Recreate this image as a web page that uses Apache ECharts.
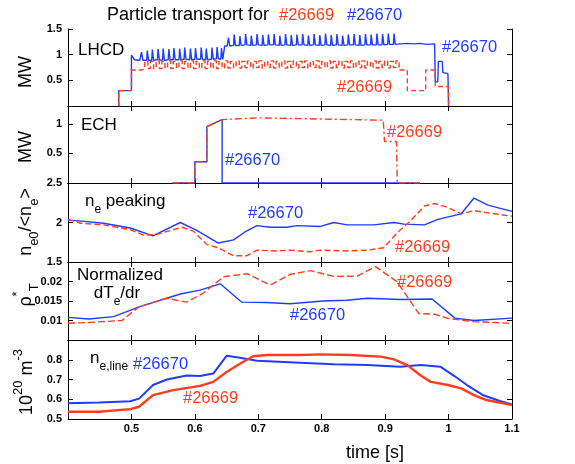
<!DOCTYPE html>
<html><head><meta charset="utf-8">
<script src="https://cdn.jsdelivr.net/npm/echarts/dist/echarts.min.js"></script>
<style>html,body{margin:0;padding:0;background:#fff}#c{width:575px;height:464px}</style>
</head><body><div id="c"></div>
<script>
const BLUE = '#1f3cff', RED = '#ff3c1e';
const FONT = '"Liberation Sans", Arial, sans-serif';

// tick labels shown on each axis
const xTickLabels = [0.5, 0.6, 0.7, 0.8, 0.9, 1, 1.1];
const yLabelsLHCD = [0.5, 1, 1.5];
const yLabelsECH = [0.5, 1];
const yLabelsPeak = [1.5, 2, 2.5];
const yLabelsRho = [0.01, 0.015, 0.02];
const yLabelsNe = [0.5, 0.6, 0.7, 0.8];

// LHCD power [MW]
const lhcd670 = [[0.48,0],[0.48,0.3],[0.5,0.3],[0.5,0.99],[0.503,0.97],[0.505,0.9],[0.513,0.89],
[0.515,0.89],[0.516,1.05],[0.518,0.89],
[0.524,0.89],[0.525,1.08],[0.527,0.89],
[0.532,0.89],[0.533,1.10],[0.535,0.89],
[0.541,0.90],[0.542,1.11],[0.544,0.90],
[0.549,0.89],[0.550,1.12],[0.552,0.89],
[0.558,0.90],[0.559,1.11],[0.561,0.90],
[0.566,0.90],[0.567,1.13],[0.569,0.90],
[0.575,0.90],[0.576,1.12],[0.578,0.90],
[0.583,0.91],[0.584,1.14],[0.586,0.91],
[0.592,0.90],[0.593,1.12],[0.595,0.90],
[0.600,0.91],[0.601,1.13],[0.603,0.91],
[0.609,0.91],[0.610,1.14],[0.612,0.91],
[0.617,0.90],[0.618,1.12],[0.620,0.90],
[0.626,0.91],[0.627,1.14],[0.629,0.91],
[0.634,0.92],[0.635,1.15],[0.637,0.92],
[0.641,0.91],[0.642,1.13],[0.644,0.91],
[0.646,0.92],[0.647,1.17],[0.651,1.17],
[0.652,1.17],[0.653,1.33],[0.655,1.17],
[0.661,1.18],[0.662,1.39],[0.664,1.18],
[0.670,1.18],[0.671,1.36],[0.673,1.18],
[0.679,1.19],[0.680,1.40],[0.682,1.19],
[0.688,1.18],[0.689,1.37],[0.691,1.18],
[0.697,1.19],[0.698,1.40],[0.700,1.19],
[0.706,1.18],[0.707,1.38],[0.709,1.18],
[0.715,1.19],[0.716,1.39],[0.718,1.19],
[0.724,1.19],[0.725,1.40],[0.727,1.19],
[0.733,1.18],[0.734,1.37],[0.736,1.18],
[0.742,1.19],[0.743,1.40],[0.745,1.19],
[0.751,1.18],[0.752,1.38],[0.754,1.18],
[0.760,1.19],[0.761,1.39],[0.763,1.19],
[0.769,1.19],[0.770,1.40],[0.772,1.19],
[0.778,1.18],[0.779,1.37],[0.781,1.18],
[0.787,1.19],[0.788,1.40],[0.790,1.19],
[0.796,1.18],[0.797,1.38],[0.799,1.18],
[0.805,1.19],[0.806,1.41],[0.808,1.19],
[0.814,1.18],[0.815,1.38],[0.817,1.18],
[0.823,1.19],[0.824,1.40],[0.826,1.19],
[0.832,1.18],[0.833,1.37],[0.835,1.18],
[0.841,1.19],[0.842,1.39],[0.844,1.19],
[0.850,1.19],[0.851,1.40],[0.853,1.19],
[0.859,1.18],[0.860,1.38],[0.862,1.18],
[0.868,1.19],[0.869,1.40],[0.871,1.19],
[0.877,1.19],[0.878,1.39],[0.880,1.19],
[0.886,1.19],[0.887,1.41],[0.889,1.19],
[0.895,1.19],[0.896,1.40],[0.898,1.19],
[0.904,1.20],[0.905,1.41],[0.907,1.20],
[0.913,1.20],[0.914,1.41],[0.916,1.20],
[0.925,1.21],[0.935,1.22],[0.945,1.21],[0.955,1.22],[0.965,1.20],[0.978,1.21],
[0.979,0.47],[0.983,0.47],[0.984,0.87],[0.990,0.87],[0.991,0.65],[0.999,0.63],[1.0,0]];

const lhcd669 = [[0.48,0],[0.48,0.3],[0.50,0.7],[0.515,0.72],
[0.521,0.87],[0.526,0.73],[0.530,0.87],[0.535,0.73],[0.539,0.88],[0.544,0.73],[0.548,0.87],[0.553,0.74],
[0.557,0.88],[0.562,0.73],[0.566,0.87],[0.571,0.74],[0.575,0.88],[0.580,0.73],[0.584,0.87],[0.589,0.74],
[0.593,0.88],[0.598,0.73],[0.602,0.87],[0.607,0.74],[0.611,0.88],[0.616,0.73],[0.620,0.87],[0.625,0.74],
[0.629,0.88],[0.634,0.73],[0.638,0.87],[0.643,0.74],[0.647,0.88],[0.652,0.74],[0.656,0.87],[0.661,0.75],
[0.665,0.88],[0.670,0.74],[0.674,0.87],[0.679,0.75],[0.683,0.88],[0.688,0.74],[0.692,0.87],[0.697,0.75],
[0.701,0.88],[0.706,0.74],[0.710,0.87],[0.715,0.75],[0.719,0.88],[0.724,0.74],[0.728,0.87],[0.733,0.75],
[0.737,0.88],[0.742,0.74],[0.746,0.87],[0.751,0.75],[0.755,0.88],[0.760,0.74],[0.764,0.87],[0.769,0.75],
[0.773,0.88],[0.778,0.74],[0.782,0.87],[0.787,0.75],[0.791,0.88],[0.796,0.74],[0.800,0.87],[0.805,0.75],
[0.809,0.88],[0.814,0.74],[0.818,0.87],[0.823,0.75],[0.827,0.88],[0.832,0.74],[0.836,0.87],[0.841,0.75],
[0.845,0.88],[0.850,0.74],[0.854,0.87],[0.859,0.75],[0.863,0.88],[0.868,0.74],[0.872,0.87],[0.877,0.75],
[0.881,0.88],[0.886,0.74],[0.890,0.87],[0.895,0.75],[0.899,0.88],[0.904,0.74],[0.908,0.87],[0.913,0.75],
[0.917,0.88],[0.922,0.70],[0.935,0.30],[0.964,0.70],[0.979,0.38],[1.0,0],[1.0,0]];

// ECH power [MW]
const ech670 = [[0.565,0],[0.6,0],[0.6,0.36],[0.619,0.36],[0.619,0.95],[0.643,1.07],[0.643,0],[0.955,0]];
const ech669 = [[0.565,0],[0.6,0],[0.6,0.36],[0.619,0.36],[0.619,0.95],[0.643,1.07],[0.645,1.10],[0.70,1.10],
[0.75,1.09],[0.80,1.08],[0.85,1.07],[0.897,1.06],[0.899,0.70],[0.918,0.70],[0.919,0],[0.955,0]];

// ne peaking
const peak670 = [[0.4,2.03],[0.417,2.02],[0.456,1.99],[0.498,1.93],[0.534,1.83],[0.577,2.0],[0.603,1.9],
[0.637,1.74],[0.661,1.78],[0.679,1.88],[0.698,1.96],[0.719,1.94],[0.745,1.94],[0.761,1.96],[0.798,1.95],
[0.819,2.0],[0.84,1.97],[0.882,1.97],[0.914,2.0],[0.93,1.98],[0.962,1.97],[0.983,2.04],[1.02,2.11],
[1.04,2.31],[1.062,2.22],[1.1,2.14]];
const peak669 = [[0.4,2.04],[0.42,1.99],[0.456,1.97],[0.498,1.91],[0.519,1.84],[0.54,1.85],[0.58,1.94],
[0.598,1.89],[0.619,1.72],[0.637,1.68],[0.661,1.58],[0.682,1.58],[0.698,1.65],[0.729,1.64],[0.75,1.65],
[0.782,1.63],[0.798,1.65],[0.84,1.64],[0.872,1.65],[0.898,1.68],[0.919,1.87],[0.94,2.02],[0.962,2.21],
[0.978,2.24],[0.999,2.19],[1.02,2.11],[1.04,2.15],[1.072,2.11],[1.1,2.08]];

// normalized dTe/dr
const rho670 = [[0.4,0.0108],[0.433,0.0104],[0.472,0.011],[0.512,0.0135],[0.577,0.0168],[0.608,0.0178],
[0.64,0.0194],[0.674,0.0147],[0.713,0.0146],[0.75,0.0143],[0.802,0.015],[0.84,0.0152],[0.872,0.0157],
[0.924,0.0154],[0.974,0.0155],[1.01,0.0106],[1.04,0.010],[1.1,0.0106]];
const rho669 = [[0.4,0.0093],[0.433,0.0095],[0.485,0.010],[0.512,0.0135],[0.556,0.0157],[0.587,0.0147],
[0.613,0.017],[0.645,0.0212],[0.682,0.022],[0.719,0.0191],[0.75,0.0218],[0.782,0.0228],[0.819,0.0213],
[0.856,0.0214],[0.885,0.0238],[0.919,0.0199],[0.953,0.0118],[0.978,0.0116],[1.0,0.0105],[1.04,0.0097],[1.1,0.0093]];

// line density [1e20 m^-3]
const ne670 = [[0.4,0.58],[0.449,0.583],[0.498,0.59],[0.512,0.603],[0.534,0.672],[0.556,0.70],[0.587,0.72],
[0.608,0.718],[0.629,0.73],[0.65,0.82],[0.671,0.81],[0.698,0.795],[0.766,0.785],[0.819,0.777],[0.872,0.773],
[0.924,0.765],[0.956,0.773],[0.987,0.765],[1.008,0.72],[1.029,0.672],[1.055,0.62],[1.082,0.59],[1.1,0.573]];
const ne669 = [[0.4,0.537],[0.449,0.537],[0.498,0.55],[0.512,0.562],[0.534,0.621],[0.566,0.646],[0.608,0.668],
[0.629,0.688],[0.65,0.738],[0.671,0.78],[0.692,0.818],[0.713,0.824],[0.766,0.824],[0.798,0.827],[0.845,0.824],
[0.893,0.816],[0.914,0.802],[0.935,0.773],[0.956,0.72],[0.972,0.688],[0.999,0.672],[1.02,0.655],[1.04,0.621],
[1.06,0.596],[1.1,0.57]];

const panels = [
  {top:29, height:77, min:0, max:1.5, interval:0.5, labels:yLabelsLHCD, blue:lhcd670, red:lhcd669, redStep:'end', dash:[5,3]},
  {top:106, height:77, min:0, max:1.3, interval:0.5, labels:yLabelsECH, blue:ech670, red:ech669, dash:[7,3,2,3]},
  {top:183, height:79, min:1.5, max:2.5, interval:0.5, labels:yLabelsPeak, blue:peak670, red:peak669, dash:[6,3]},
  {top:262, height:78, min:0.005, max:0.025, interval:0.005, labels:yLabelsRho, blue:rho670, red:rho669, dash:[7,3]},
  {top:340, height:79, min:0.5, max:0.9, interval:0.1, labels:yLabelsNe, blue:ne670, red:ne669, dash:null, wide:true}
];

function fmt(list){ return v => list.some(t => Math.abs(t - v) < 1e-9) ? String(+v.toFixed(4)) : ''; }
const tick = {show:true, inside:true, length:5, lineStyle:{color:'#000', width:1}};
const line = {show:true, lineStyle:{color:'#000', width:1}};
const lab = {fontSize:11, fontWeight:'bold', color:'#000', fontFamily:FONT};

const grid=[], xAxis=[], yAxis=[], series=[];
panels.forEach((p,i)=>{
  grid.push({left:68, right:63, top:p.top, height:p.height});
  xAxis.push({type:'value', gridIndex:i, min:0.4, max:1.1, interval:0.1, position:'bottom',
    axisLine:line, axisTick:tick, splitLine:{show:false},
    axisLabel: i===4 ? Object.assign({show:true, margin:4, formatter:fmt(xTickLabels)}, lab) : {show:false}});
  yAxis.push({type:'value', gridIndex:i, min:p.min, max:p.max, interval:p.interval, position:'left',
    axisLine:line, axisTick:tick, splitLine:{show:false},
    axisLabel:Object.assign({margin:6, formatter:fmt(p.labels)}, lab)});
});
panels.forEach((p,i)=>{
  xAxis.push({type:'value', gridIndex:i, min:0.4, max:1.1, interval:0.1, position:'top',
    axisLine:line, axisTick:tick, splitLine:{show:false}, axisLabel:{show:false}});
  yAxis.push({type:'value', gridIndex:i, min:p.min, max:p.max, interval:p.interval, position:'right',
    axisLine:line, axisTick:tick, splitLine:{show:false}, axisLabel:{show:false}});
});
panels.forEach((p,i)=>{
  series.push({type:'line', xAxisIndex:i, yAxisIndex:i, data:p.blue, showSymbol:false, symbol:'none',
    color:BLUE, lineStyle:{color:BLUE, width:p.wide?2:1.4}, z:2});
  series.push({type:'line', xAxisIndex:i, yAxisIndex:i, data:p.red, showSymbol:false, symbol:'none',
    step:p.redStep||false, color:RED,
    lineStyle:{color:RED, width:p.wide?2.4:1.4, type:p.dash||'solid'}, z:3});
});

function txt(x,y,text,fill,size,opts){
  return Object.assign({type:'text', x:x, y:y, z:10,
    style:{text:text, fill:fill, font:size+'px '+FONT, align:'left', verticalAlign:'middle'}}, opts||{});
}
function rich(x,y,text,size,align,rot){
  return {type:'text', x:x, y:y, z:10, rotation:rot||0,
    style:{text:text, fill:'#000', fontSize:size, fontFamily:FONT, align:align, verticalAlign:'middle',
      rich:{
        m:{fontSize:size, fontFamily:FONT, fill:'#000', lineHeight:30, verticalAlign:'middle'},
        s:{fontSize:Math.round(size*0.7), fontFamily:FONT, fill:'#000', lineHeight:13, verticalAlign:'bottom'},
        p:{fontSize:Math.round(size*0.7), fontFamily:FONT, fill:'#000', lineHeight:13, verticalAlign:'top'}
      }}};
}

const graphic = [
  txt(107,15,'Particle transport for','#000',18),
  txt(279,15,'#26669',RED,16.5),
  txt(347,15,'#26670',BLUE,16.5),
  txt(78,50,'LHCD','#000',17),
  txt(442,47,'#26670',BLUE,16.5),
  txt(337,87,'#26669',RED,16.5),
  txt(81,125,'ECH','#000',17),
  txt(225,160,'#26670',BLUE,16.5),
  txt(387,132,'#26669',RED,16.5),
  rich(85,201,'{m|n}{s|e}{m| peaking}',17,'left'),
  txt(248,213,'#26670',BLUE,16.5),
  txt(395,247,'#26669',RED,16.5),
  txt(120,275,'Normalized','#000',17,{style:{text:'Normalized', fill:'#000', font:'17px '+FONT, align:'center', verticalAlign:'middle'}}),
  rich(117,293,'{m|dT}{s|e}{m|/dr}',17,'center'),
  txt(397,282,'#26669',RED,16.5),
  txt(290,315,'#26670',BLUE,16.5),
  rich(90,358,'{m|n}{s|e,line}',17,'left'),
  txt(133,364,'#26670',BLUE,16.5),
  txt(183,398,'#26669',RED,16.5),
  {type:'text', x:375, y:453, z:10, style:{text:'time [s]', fill:'#000', font:'18px '+FONT, align:'center', verticalAlign:'middle'}},
  rich(26,72,'{m|MW}',18,'center',Math.PI/2),
  rich(26,147,'{m|MW}',18,'center',Math.PI/2),
  rich(26,222,'{m|n}{s|e0}{m|/<n}{s|e}{m|>}',18,'center',Math.PI/2),
  rich(26,295,'{m|ρ}{p|*}{s|T}',18,'center',Math.PI/2),
  rich(27,382,'{m|10}{p|20}{m| m}{p|-3}',18,'center',Math.PI/2)
];

const chart = echarts.init(document.getElementById('c'), null, {renderer:'canvas'});
chart.setOption({animation:false, backgroundColor:'#fff', grid, xAxis, yAxis, series, graphic});
</script></body></html>
